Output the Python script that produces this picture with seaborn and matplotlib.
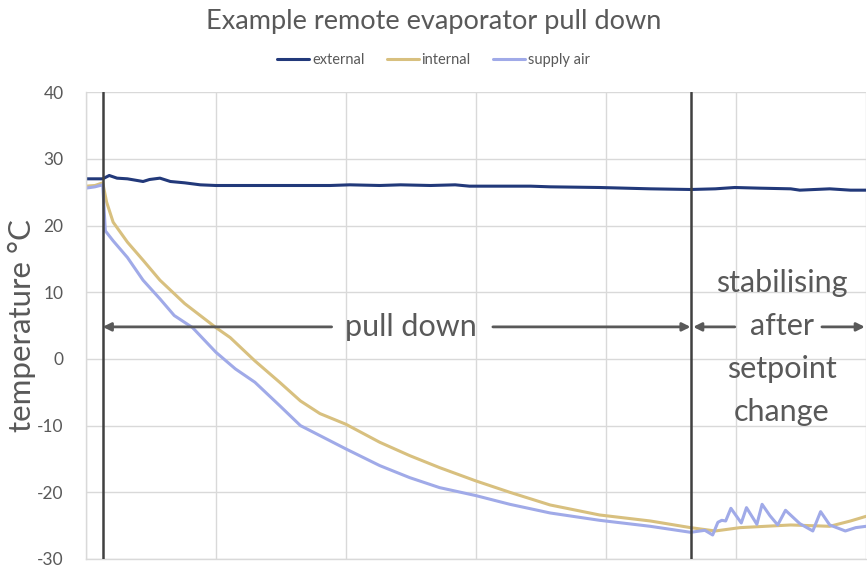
import numpy as np
import pandas as pd
import matplotlib
matplotlib.use("Agg")
import matplotlib.pyplot as plt
from matplotlib.lines import Line2D
import seaborn as sns

# Data (x in hours, temperature in °C)
external_x = [0, 0.13, 0.18, 0.24, 0.32, 0.38, 0.44, 0.49, 0.57, 0.65,
              0.76, 0.88, 1.0, 1.34, 1.88, 2.03, 2.26, 2.42, 2.65, 2.84,
              2.95, 3.18, 3.42, 3.57, 3.95, 4.34, 4.65, 4.84, 4.99, 5.18,
              5.42, 5.49, 5.72, 5.88, 6.0]
external_t = [27.0, 27.0, 27.5, 27.1, 27.0, 26.8, 26.6, 26.9, 27.1, 26.6,
              26.4, 26.1, 26.0, 26.0, 26.0, 26.1, 26.0, 26.1, 26.0, 26.1,
              25.9, 25.9, 25.9, 25.8, 25.7, 25.5, 25.4, 25.5, 25.7, 25.6,
              25.5, 25.3, 25.5, 25.3, 25.3]

internal_x = [0, 0.07, 0.13, 0.16, 0.21, 0.32, 0.44, 0.57, 0.76, 0.88,
              1.0, 1.11, 1.3, 1.49, 1.65, 1.8, 2.0, 2.26, 2.49, 2.72,
              3.0, 3.26, 3.57, 3.95, 4.34, 4.65, 4.84, 5.03, 5.42, 5.72,
              5.88, 6.0]
internal_t = [25.9, 26.0, 26.4, 23.5, 20.5, 17.5, 14.8, 11.8, 8.3, 6.5,
              4.7, 3.2, -0.3, -3.5, -6.3, -8.2, -9.8, -12.5, -14.5, -16.3,
              -18.3, -20.0, -21.9, -23.4, -24.3, -25.3, -25.8, -25.3, -24.9, -25.1,
              -24.3, -23.6]

supply_x = [0, 0.07, 0.13, 0.15, 0.21, 0.32, 0.44, 0.57, 0.68, 0.82,
            1.0, 1.15, 1.3, 1.49, 1.65, 1.8, 2.0, 2.26, 2.49, 2.72,
            3.0, 3.26, 3.57, 3.95, 4.34, 4.65, 4.76, 4.82, 4.86, 4.89,
            4.92, 4.96, 5.04, 5.08, 5.16, 5.2, 5.26, 5.32, 5.38, 5.49,
            5.59, 5.65, 5.72, 5.84, 5.92, 6.0]
supply_t = [25.6, 25.8, 26.1, 19.2, 17.7, 15.2, 11.8, 9.0, 6.5, 4.7,
            1.0, -1.5, -3.5, -7.0, -10.0, -11.5, -13.5, -16.0, -17.8, -19.3,
            -20.5, -21.8, -23.1, -24.2, -25.1, -26.0, -25.7, -26.4, -24.5, -24.2,
            -24.3, -22.4, -24.6, -22.3, -24.8, -21.8, -23.5, -24.9, -22.7, -24.7,
            -25.8, -22.9, -24.9, -25.8, -25.3, -25.1]

series_names = ['external', 'internal', 'supply air']
series_colors = ['#22397a', '#d8c07f', '#a0aae8']

# Phase markers
pull_down_start = 0.13
pull_down_end = 4.65
arrow_level = 4.8

# Long-form table for seaborn
frames = []
for name, xs, ts in zip(series_names,
                        [external_x, internal_x, supply_x],
                        [external_t, internal_t, supply_t]):
    frames.append(pd.DataFrame({'hours': xs, 'temp': ts, 'series': name}))
df = pd.concat(frames, ignore_index=True)

sns.set_style('whitegrid')
plt.rcParams['font.family'] = ['Lato', 'DejaVu Sans']
plt.rcParams['axes.unicode_minus'] = False
text_grey = '#595959'
grid_grey = '#d9d9d9'

fig = plt.figure(figsize=(8.67, 5.69), dpi=100)
ax = fig.add_axes([0.099, 0.0176, 0.9, 0.8205])

sns.lineplot(data=df, x='hours', y='temp', hue='series', hue_order=series_names,
             palette=series_colors, linewidth=2.2, ax=ax, legend=False,
             estimator=None, sort=False)

ax.set_xlim(0, 6)
ax.set_ylim(-30, 40)
ax.set_xticks(np.arange(0, 7, 1))
ax.set_xticklabels([])
ax.set_yticks(np.arange(-30, 41, 10))
ax.tick_params(axis='y', labelsize=12.5, labelcolor=text_grey, length=0, pad=16)
ax.tick_params(axis='x', length=0)
ax.grid(True, color=grid_grey, linewidth=1)
for side in ['top', 'right']:
    ax.spines[side].set_visible(False)
for side in ['left', 'bottom']:
    ax.spines[side].set_color(grid_grey)
    ax.spines[side].set_linewidth(1)
ax.set_xlabel('')
ax.set_ylabel('temperature °C', fontsize=22.5, color=text_grey)
ax.yaxis.set_label_coords(-0.064, 0.5)

# Phase boundaries
for xv in [pull_down_start, pull_down_end]:
    ax.axvline(xv, color='#404040', linewidth=1.8, zorder=5)

arrow_kw = dict(arrowstyle='-|>', color='#595959', lw=2, mutation_scale=12,
                shrinkA=0, shrinkB=0)
ax.annotate('', xy=(pull_down_start, arrow_level), xytext=(1.89, arrow_level),
            arrowprops=arrow_kw)
ax.annotate('', xy=(pull_down_end, arrow_level), xytext=(3.13, arrow_level),
            arrowprops=arrow_kw)
ax.text(2.5, arrow_level, 'pull down', fontsize=22, color=text_grey,
        ha='center', va='center')

ax.annotate('', xy=(pull_down_end + 0.02, arrow_level), xytext=(4.99, arrow_level),
            arrowprops=arrow_kw)
ax.annotate('', xy=(5.99, arrow_level), xytext=(5.66, arrow_level),
            arrowprops=arrow_kw)
ax.text(5.35, 1.75, 'stabilising\nafter\nsetpoint\nchange', fontsize=22,
        color=text_grey, ha='center', va='center', linespacing=1.65)

# Title and legend
fig.suptitle('Example remote evaporator pull down', fontsize=19.5,
             color=text_grey, y=0.985, va='top')
handles = [Line2D([0], [0], color=c, lw=2.2) for c in series_colors]
fig.legend(handles, series_names, loc='center', bbox_to_anchor=(0.5, 0.895),
           ncol=3, frameon=False, fontsize=10.5, handlelength=2.2,
           handletextpad=0.2, columnspacing=1.5, labelcolor=text_grey)

fig.savefig('out.png', dpi=100)
